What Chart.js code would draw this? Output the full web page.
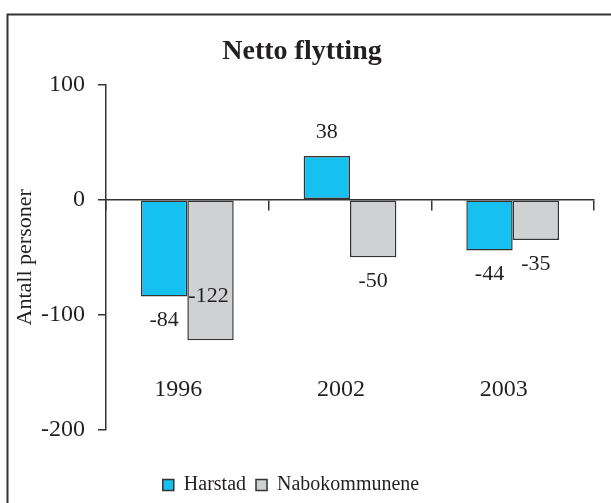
<!DOCTYPE html>
<html>
<head>
<meta charset="utf-8">
<script src="https://cdn.jsdelivr.net/npm/chart.js@4/dist/chart.umd.min.js"></script>
<style>
  html, body { margin: 0; padding: 0; background: #fff; }
  #wrap { width: 611px; height: 503px; }
</style>
</head>
<body>
<div id="wrap"><canvas id="chart" width="611" height="503"></canvas></div>
<script>
const years = ['1996', '2002', '2003'];
const harstad = [-84, 38, -44];
const nabokommunene = [-122, -50, -35];
const yTicks = [100, 0, -100, -200];

const serif = 'Liberation Serif';
const ink = '#231F20';

// frame round the chart (only top and left edge are inside the picture)
const framePlugin = {
    id: 'frame',
    beforeDraw(chart) {
        const ctx = chart.ctx;
        ctx.save();
        ctx.strokeStyle = '#333';
        ctx.lineWidth = 2;
        ctx.beginPath();
        ctx.moveTo(7.5, chart.height);
        ctx.lineTo(7.5, 14.5);
        ctx.lineTo(chart.width, 14.5);
        ctx.stroke();
        ctx.restore();
    }
};

// title and legend sit a bit off centre in the original
const shiftPlugin = {
    id: 'shift',
    afterLayout(chart) {
        chart.titleBlock.left += 5;
        chart.titleBlock.right += 5;
        chart.legend.left -= 6;
        chart.legend.right -= 6;
        chart.legend.top += 35;
        chart.legend.bottom += 35;
    }
};

// value labels, mostly 24px past the bar end; -122 was moved up into the bar
const valueLabels = {
    id: 'valueLabels',
    afterDatasetsDraw(chart) {
        const ctx = chart.ctx;
        ctx.save();
        ctx.font = '22px "' + serif + '"';
        ctx.fillStyle = ink;
        ctx.textAlign = 'center';
        ctx.textBaseline = 'middle';
        chart.data.datasets.forEach((ds, di) => {
            chart.getDatasetMeta(di).data.forEach((bar, i) => {
                const v = ds.data[i];
                let x = bar.x;
                let y = v >= 0 ? bar.y - 24 : bar.y + 24;
                if (di === 1 && i === 0) { x -= 2; y = bar.y - 44; }
                ctx.fillText(String(v), x, y);
            });
        });
        ctx.restore();
    }
};

new Chart(document.getElementById('chart'), {
    type: 'bar',
    data: {
        labels: years,
        datasets: [
            {
                label: 'Harstad',
                data: harstad,
                backgroundColor: '#16C0F0',
                borderColor: '#333',
                borderWidth: 1.5,
                borderSkipped: false
            },
            {
                label: 'Nabokommunene',
                data: nabokommunene,
                backgroundColor: '#D0D1D3',
                borderColor: '#333',
                borderWidth: 1.5,
                borderSkipped: false
            }
        ]
    },
    options: {
        responsive: false,
        animation: false,
        events: [],
        categoryPercentage: 0.57,
        barPercentage: 1.0,
        layout: {padding: {left: 0, right: 17, top: 0, bottom: 33}},
        scales: {
            x: {
                position: {y: 0},
                offset: true,
                border: {display: true, color: '#333', width: 1.5},
                grid: {display: true, drawOnChartArea: false, drawTicks: true, tickLength: 10, color: '#333', lineWidth: 1.5, offset: true},
                ticks: {display: false}
            },
            xLab: {
                type: 'category',
                labels: years,
                position: {y: -150},
                offset: true,
                border: {display: false},
                grid: {display: false, drawTicks: false},
                ticks: {
                    padding: 3,
                    labelOffset: -9,
                    color: ink,
                    font: {family: serif, size: 24}
                }
            },
            y: {
                min: -200,
                max: 100,
                afterFit(scale) { scale.width = 106; },
                afterBuildTicks(scale) { scale.ticks = yTicks.map(v => ({value: v})); },
                border: {display: true, color: '#333', width: 1.5},
                grid: {display: true, drawOnChartArea: false, drawTicks: true, tickLength: 8, color: '#333', lineWidth: 1.5},
                ticks: {
                    padding: 13,
                    color: ink,
                    font: {family: serif, size: 24}
                },
                title: {
                    display: true,
                    text: 'Antall personer',
                    color: ink,
                    padding: {top: 12, bottom: 0},
                    font: {family: serif, size: 22}
                }
            }
        },
        plugins: {
            title: {
                display: true,
                text: 'Netto flytting',
                color: ink,
                padding: {top: 35, bottom: 16},
                font: {family: serif, size: 28, weight: 'bold'}
            },
            legend: {
                display: true,
                position: 'bottom',
                labels: {
                    boxWidth: 11,
                    boxHeight: 11,
                    padding: 10,
                    color: ink,
                    font: {family: serif, size: 20}
                }
            },
            tooltip: {enabled: false}
        }
    },
    plugins: [framePlugin, shiftPlugin, valueLabels]
});
</script>
</body>
</html>
